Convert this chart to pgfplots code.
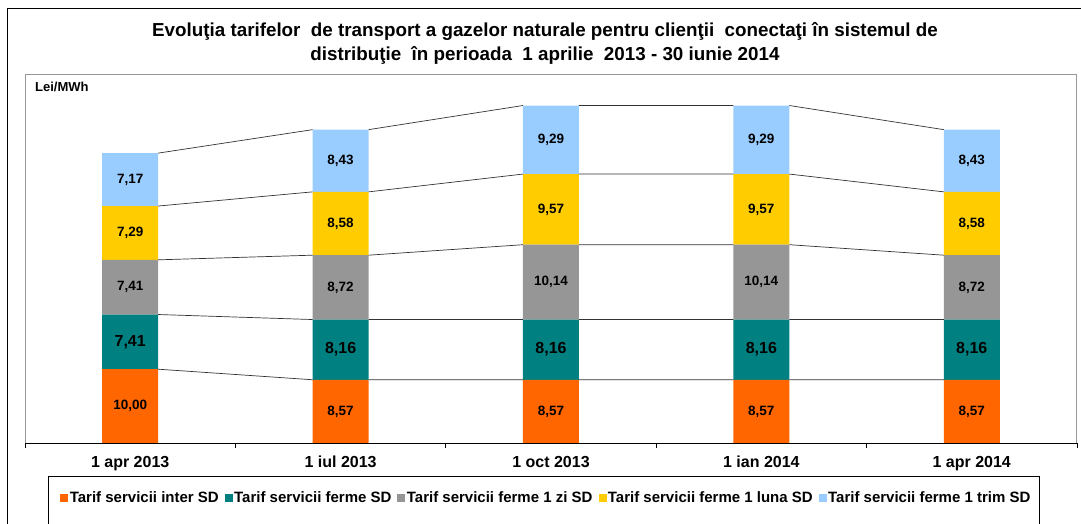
\documentclass[border=0pt]{standalone}
\usepackage{fontspec}
\setmainfont{Liberation Sans}
\usepackage{pgfplots}
\pgfplotsset{compat=1.18}
\definecolor{cOr}{HTML}{FF6600}
\definecolor{cTe}{HTML}{008080}
\definecolor{cGr}{HTML}{969696}
\definecolor{cYe}{HTML}{FFCC00}
\definecolor{cBl}{HTML}{99CCFF}
\pgfplotsset{
  commonax/.style={
    width=1052pt, height=369pt, scale only axis,
    xmin=-0.5, xmax=4.5, ymin=0, ymax=50, clip=false,
  },
  lbl/.style={
    nodes near coords={\pgfmathprintnumber[fixed,fixed zerofill,precision=2,use comma,assume math mode=true]{\pgfplotspointmeta}},
    nodes near coords align=center,
  },
}
\begin{document}
\begin{tikzpicture}
\begin{axis}[
  commonax, name=ax,
  ybar stacked, bar width=56pt,
  axis line style={draw=gray!80, line width=1pt},
  ytick=\empty,
  xtick={0,1,2,3,4},
  xticklabels={1 apr 2013, 1 iul 2013, 1 oct 2013, 1 ian 2014, 1 apr 2014},
  x tick label style={font=\bfseries\fontsize{16}{18}\selectfont, text height=12pt, text depth=3pt, yshift=-5pt},
  major x tick style={draw=none},
  minor xtick={-0.5,0.5,1.5,2.5,3.5,4.5},
  minor x tick style={black, line width=0.75pt},
  minor tick length=5pt,
  xtick align=outside,
  tick pos=left,
]
\addplot[fill=cOr, draw=none] coordinates {(0,10.00) (1,8.57) (2,8.57) (3,8.57) (4,8.57)};
\addplot[fill=cTe, draw=none] coordinates {(0,7.41) (1,8.16) (2,8.16) (3,8.16) (4,8.16)};
\addplot[fill=cGr, draw=none] coordinates {(0,7.41) (1,8.72) (2,10.14) (3,10.14) (4,8.72)};
\addplot[fill=cYe, draw=none] coordinates {(0,7.29) (1,8.58) (2,9.57) (3,9.57) (4,8.58)};
\addplot[fill=cBl, draw=none] coordinates {(0,7.17) (1,8.43) (2,9.29) (3,9.29) (4,8.43)};
\end{axis}

\begin{axis}[
  commonax, at={(ax.south west)}, anchor=south west,
  axis x line*=bottom, axis y line=none,
  x axis line style={black, line width=1pt},
  xtick=\empty, ytick=\empty,
  unbounded coords=jump,
  legend columns=5,
  legend cell align=left,
  legend style={draw=none, fill=none, at={(0.4957,-0.149)}, anchor=center,
    font=\bfseries\fontsize{15}{17}\selectfont,
    /tikz/every even column/.append style={column sep=4pt}},
]
\addlegendimage{legend image code/.code={\fill[cOr] (0pt,-3.5pt) rectangle (7pt,3.5pt);}}
\addlegendentry{Tarif servicii inter SD}
\addlegendimage{legend image code/.code={\fill[cTe] (0pt,-3.5pt) rectangle (7pt,3.5pt);}}
\addlegendentry{Tarif servicii ferme SD}
\addlegendimage{legend image code/.code={\fill[cGr] (0pt,-3.5pt) rectangle (7pt,3.5pt);}}
\addlegendentry{Tarif servicii ferme 1 zi SD}
\addlegendimage{legend image code/.code={\fill[cYe] (0pt,-3.5pt) rectangle (7pt,3.5pt);}}
\addlegendentry{Tarif servicii ferme 1 luna SD}
\addlegendimage{legend image code/.code={\fill[cBl] (0pt,-3.5pt) rectangle (7pt,3.5pt);}}
\addlegendentry{Tarif servicii ferme 1 trim SD}

% series lines between stacked segment tops
\addplot[forget plot, no marks, black!80, line width=0.7pt] coordinates {(0.133,10.00) (0.867,8.57) (1,nan) (1.133,8.57) (1.867,8.57) (2,nan) (2.133,8.57) (2.867,8.57) (3,nan) (3.133,8.57) (3.867,8.57)};
\addplot[forget plot, no marks, black!80, line width=0.7pt] coordinates {(0.133,17.41) (0.867,16.73) (1,nan) (1.133,16.73) (1.867,16.73) (2,nan) (2.133,16.73) (2.867,16.73) (3,nan) (3.133,16.73) (3.867,16.73)};
\addplot[forget plot, no marks, black!80, line width=0.7pt] coordinates {(0.133,24.82) (0.867,25.45) (1,nan) (1.133,25.45) (1.867,26.87) (2,nan) (2.133,26.87) (2.867,26.87) (3,nan) (3.133,26.87) (3.867,25.45)};
\addplot[forget plot, no marks, black!80, line width=0.7pt] coordinates {(0.133,32.11) (0.867,34.03) (1,nan) (1.133,34.03) (1.867,36.44) (2,nan) (2.133,36.44) (2.867,36.44) (3,nan) (3.133,36.44) (3.867,34.03)};
\addplot[forget plot, no marks, black!80, line width=0.7pt] coordinates {(0.133,39.28) (0.867,42.46) (1,nan) (1.133,42.46) (1.867,45.73) (2,nan) (2.133,45.73) (2.867,45.73) (3,nan) (3.133,45.73) (3.867,42.46)};

% segment value labels (placed at segment mid-heights)
\addplot[forget plot, draw=none, no marks, point meta=explicit, lbl,
  every node near coord/.append style={font=\bfseries\fontsize{13.5}{15}\selectfont, text=black}]
  table[meta=v] {
x y v
0 5.000 10.00
1 4.285 8.57
2 4.285 8.57
3 4.285 8.57
4 4.285 8.57
0 21.115 7.41
1 21.090 8.72
2 21.800 10.14
3 21.800 10.14
4 21.090 8.72
0 28.465 7.29
1 29.740 8.58
2 31.655 9.57
3 31.655 9.57
4 29.740 8.58
0 35.695 7.17
1 38.245 8.43
2 41.085 9.29
3 41.085 9.29
4 38.245 8.43
};
\addplot[forget plot, draw=none, no marks, point meta=explicit, lbl,
  every node near coord/.append style={font=\bfseries\fontsize{16}{18}\selectfont, text=black}]
  table[meta=v] {
x y v
0 13.705 7.41
1 12.650 8.16
2 12.650 8.16
3 12.650 8.16
4 12.650 8.16
};
\node[anchor=north west, font=\bfseries\fontsize{13}{15}\selectfont, inner sep=0pt] at (axis description cs:0,1) [xshift=10pt, yshift=-8pt] {Lei/MWh};
\end{axis}

\begin{scope}[shift={(ax.south west)}, x=1pt, y=1pt]
\draw[black, line width=1pt] (-18,-100) -- (-18,434) -- (1100,434);
\node[font=\bfseries\fontsize{18.8}{24}\selectfont, align=center] at (520,400)
  {Evoluţia tarifelor\ \ de transport a gazelor naturale pentru clienţii\ \ conectaţi în sistemul de\\
   distribuţie\ \ în perioada\ \ 1 aprilie\ \ 2013 - 30 iunie 2014};
\draw[black, line width=0.75pt] (23,-100) -- (23,-33) -- (1014,-33) -- (1014,-100);
\pgfresetboundingbox
\path[use as bounding box] (-25,-80) rectangle (1056,443);
\end{scope}
\end{tikzpicture}
\end{document}
